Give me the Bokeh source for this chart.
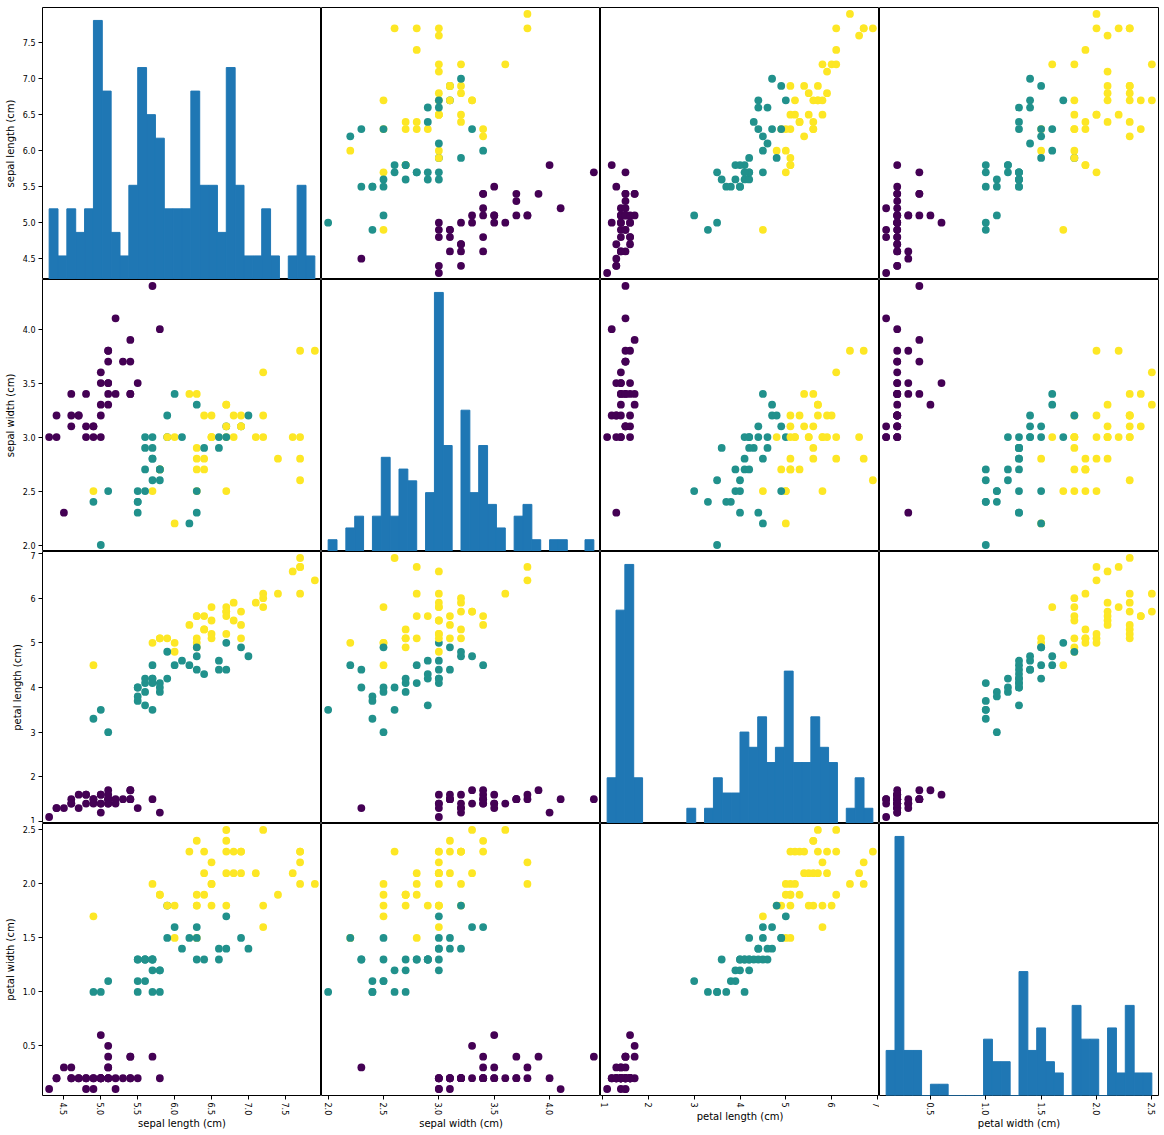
import numpy as np
from bokeh.plotting import figure
from bokeh.layouts import gridplot
from bokeh.models import (Range1d, LinearAxis, FixedTicker, PrintfTickFormatter,
                          ColumnDataSource)
from bokeh.embed import file_html
from bokeh.resources import INLINE

# ---- data (iris training samples shown in the chart, in drawing order) ----
sepal_length = [
    5.1, 4.9, 4.7, 4.6, 5.0, 5.4, 4.6, 4.9, 5.4, 4.8, 4.8, 4.3, 5.8, 5.7, 5.1, 5.1, 5.4, 5.1, 5.1,
    5.0, 5.2, 4.7, 4.8, 5.4, 5.2, 4.9, 5.0, 5.5, 4.4, 5.1, 4.5, 4.4, 5.0, 5.1, 4.6, 5.3, 5.0,
    5.8, 7.1, 6.3, 6.5, 7.6, 4.9, 6.7, 7.2, 6.5, 6.4, 6.8, 5.7, 6.4, 6.5, 7.7, 7.7, 6.0, 6.9, 7.7,
    6.3, 6.7, 7.2, 6.4, 7.2, 7.4, 7.9, 6.3, 7.7, 6.3, 6.0, 5.8, 6.8, 6.7, 6.7, 6.3, 6.5, 6.2,
    7.0, 6.9, 5.5, 5.7, 6.3, 4.9, 6.6, 5.0, 5.9, 5.6, 6.7, 5.8, 6.2, 5.6, 5.9, 6.3, 6.4, 6.6, 6.7,
    5.7, 5.5, 5.5, 5.8, 6.0, 6.3, 5.6, 5.5, 6.1, 5.8, 5.6, 5.7, 5.7, 5.1, 5.7,
    6.9, 6.7, 6.9, 5.9]
sepal_width = [
    3.5, 3.0, 3.2, 3.1, 3.6, 3.9, 3.4, 3.1, 3.7, 3.4, 3.0, 3.0, 4.0, 4.4, 3.5, 3.8, 3.4, 3.7, 3.3,
    3.0, 3.4, 3.2, 3.1, 3.4, 4.1, 3.1, 3.2, 3.5, 3.0, 3.4, 2.3, 3.2, 3.5, 3.8, 3.2, 3.7, 3.3,
    2.7, 3.0, 2.9, 3.0, 3.0, 2.5, 2.5, 3.6, 3.2, 2.7, 3.0, 2.5, 3.2, 3.0, 3.8, 2.6, 2.2, 3.2, 2.8,
    2.7, 3.3, 3.2, 2.8, 3.0, 2.8, 3.8, 2.8, 3.0, 3.4, 3.0, 2.7, 3.2, 3.3, 3.0, 2.5, 3.0, 3.4,
    3.2, 3.1, 2.3, 2.8, 3.3, 2.4, 2.9, 2.0, 3.0, 2.9, 3.1, 2.7, 2.2, 2.5, 3.2, 2.5, 2.9, 3.0, 3.0,
    2.6, 2.4, 2.4, 2.7, 3.4, 2.3, 3.0, 2.5, 3.0, 2.6, 2.7, 3.0, 2.9, 2.5, 2.8,
    3.1, 3.1, 3.1, 3.0]
petal_length = [
    1.4, 1.4, 1.3, 1.5, 1.4, 1.7, 1.4, 1.5, 1.5, 1.6, 1.4, 1.1, 1.2, 1.5, 1.4, 1.5, 1.7, 1.5, 1.7,
    1.6, 1.4, 1.6, 1.6, 1.5, 1.5, 1.5, 1.2, 1.3, 1.3, 1.5, 1.3, 1.3, 1.6, 1.6, 1.4, 1.5, 1.4,
    5.1, 5.9, 5.6, 5.8, 6.6, 4.5, 5.8, 6.1, 5.1, 5.3, 5.5, 5.0, 5.3, 5.5, 6.7, 6.9, 5.0, 5.7, 6.7,
    4.9, 5.7, 6.0, 5.6, 5.8, 6.1, 6.4, 5.1, 6.1, 5.6, 4.8, 5.1, 5.9, 5.7, 5.2, 5.0, 5.2, 5.4,
    4.7, 4.9, 4.0, 4.5, 4.7, 3.3, 4.6, 3.5, 4.2, 3.6, 4.4, 4.1, 4.5, 3.9, 4.8, 4.9, 4.3, 4.4, 5.0,
    3.5, 3.8, 3.7, 3.9, 4.5, 4.4, 4.1, 4.0, 4.6, 4.0, 4.2, 4.2, 4.2, 3.0, 4.1,
    5.4, 5.6, 5.1, 5.1]
petal_width = [
    0.2, 0.2, 0.2, 0.2, 0.2, 0.4, 0.3, 0.1, 0.2, 0.2, 0.1, 0.1, 0.2, 0.4, 0.3, 0.3, 0.2, 0.4, 0.5,
    0.2, 0.2, 0.2, 0.2, 0.4, 0.1, 0.2, 0.2, 0.2, 0.2, 0.2, 0.3, 0.2, 0.6, 0.2, 0.2, 0.2, 0.2,
    1.9, 2.1, 1.8, 2.2, 2.1, 1.7, 1.8, 2.5, 2.0, 1.9, 2.1, 2.0, 2.3, 1.8, 2.2, 2.3, 1.5, 2.3, 2.0,
    1.8, 2.1, 1.8, 2.1, 1.6, 1.9, 2.0, 1.5, 2.3, 2.4, 1.8, 1.9, 2.3, 2.5, 2.3, 1.9, 2.0, 2.3,
    1.4, 1.5, 1.3, 1.3, 1.6, 1.0, 1.3, 1.0, 1.5, 1.3, 1.4, 1.0, 1.5, 1.1, 1.8, 1.5, 1.3, 1.4, 1.7,
    1.0, 1.1, 1.0, 1.2, 1.6, 1.3, 1.3, 1.3, 1.4, 1.2, 1.3, 1.2, 1.3, 1.1, 1.3,
    2.1, 2.4, 2.3, 1.8]
species = [
    0, 0, 0, 0, 0, 0, 0, 0, 0, 0, 0, 0, 0, 0, 0, 0, 0, 0, 0,
    0, 0, 0, 0, 0, 0, 0, 0, 0, 0, 0, 0, 0, 0, 0, 0, 0, 0,
    2, 2, 2, 2, 2, 2, 2, 2, 2, 2, 2, 2, 2, 2, 2, 2, 2, 2, 2,
    2, 2, 2, 2, 2, 2, 2, 2, 2, 2, 2, 2, 2, 2, 2, 2, 2, 2,
    1, 1, 1, 1, 1, 1, 1, 1, 1, 1, 1, 1, 1, 1, 1, 1, 1, 1, 1,
    1, 1, 1, 1, 1, 1, 1, 1, 1, 1, 1, 1, 1, 1, 1,
    2, 2, 2, 2]

feature_names = ["sepal length (cm)", "sepal width (cm)", "petal length (cm)", "petal width (cm)"]
tick_values = [
    [4.5, 5.0, 5.5, 6.0, 6.5, 7.0, 7.5],
    [2.0, 2.5, 3.0, 3.5, 4.0],
    [1, 2, 3, 4, 5, 6, 7],
    [0.5, 1.0, 1.5, 2.0, 2.5],
]
tick_formats = ["%.1f", "%.1f", "%d", "%.1f"]
class_colors = ["#440154", "#21918c", "#fde725"]
hist_color = "#1f77b4"
n_bins = 30

columns = [sepal_length, sepal_width, petal_length, petal_width]
point_colors = [class_colors[s] for s in species]

FW, FH = 279, 272
LEFT, RIGHT, TOP, BOTTOM = 42, 6, 7, 40
FONT = "DejaVu Sans"

bounds = []
for v in columns:
    lo, hi = min(v), max(v)
    d = (hi - lo) * 0.05 / 2
    bounds.append((lo - d, hi + d))


def style_axis(ax, i, label):
    ax.ticker = FixedTicker(ticks=tick_values[i])
    ax.formatter = PrintfTickFormatter(format=tick_formats[i])
    ax.axis_label = label
    ax.axis_label_text_font = FONT
    ax.axis_label_text_font_size = "10px"
    ax.axis_label_text_font_style = "normal"
    ax.axis_label_text_color = "black"
    ax.axis_label_standoff = 4
    ax.major_label_text_font = FONT
    ax.major_label_text_font_size = "8px"
    ax.major_label_text_color = "black"
    ax.major_label_standoff = 3
    ax.major_tick_out = 4
    ax.major_tick_in = 0
    ax.minor_tick_out = 0
    ax.minor_tick_in = 0
    ax.major_tick_line_color = "black"
    ax.major_tick_line_width = 1
    ax.axis_line_color = None


grid = []
for r in range(4):
    row = []
    for c in range(4):
        w = FW + (LEFT if c == 0 else 0) + (RIGHT if c == 3 else 0)
        h = FH + (TOP if r == 0 else 0) + (BOTTOM if r == 3 else 0)
        xr = Range1d(*bounds[c])
        if r == c:
            counts, edges = np.histogram(columns[c], bins=n_bins)
            yr = Range1d(0, counts.max() * 1.05)
        else:
            yr = Range1d(*bounds[r])
        p = figure(width=w, height=h, x_range=xr, y_range=yr, tools="",
                   toolbar_location=None, output_backend="svg",
                   x_axis_location="below" if r == 3 else None,
                   y_axis_location="left" if (c == 0 and r != 0) else None,
                   min_border=0,
                   min_border_left=LEFT if c == 0 else 0,
                   min_border_right=RIGHT if c == 3 else 0,
                   min_border_top=TOP if r == 0 else 0,
                   min_border_bottom=BOTTOM if r == 3 else 0)
        p.background_fill_color = "white"
        p.border_fill_color = "white"
        p.outline_line_color = "black"
        p.outline_line_width = 1
        p.outline_line_alpha = 1
        for g in p.grid:
            g.visible = False

        if r == c:
            p.quad(left=edges[:-1], right=edges[1:], bottom=0, top=counts,
                   fill_color=hist_color, line_color=hist_color, line_width=1)
        else:
            src = ColumnDataSource(dict(x=columns[c], y=columns[r], color=point_colors))
            p.scatter("x", "y", source=src, size=7.8, fill_color="color",
                      line_color=None, marker="circle")

        if r == 3:
            style_axis(p.xaxis[0], c, feature_names[c])
            p.xaxis[0].major_label_orientation = "vertical"
            p.xaxis[0].axis_label_standoff = 0
        if c == 0:
            if r == 0:
                p.extra_y_ranges = {"lab": Range1d(*bounds[0])}
                ax = LinearAxis(y_range_name="lab")
                p.add_layout(ax, "left")
                style_axis(ax, 0, feature_names[0])
            else:
                style_axis(p.yaxis[0], r, feature_names[r])
        row.append(p)
    grid.append(row)

layout = gridplot(grid, toolbar_location=None)

open("out.html", "w").write(file_html(layout, INLINE))
